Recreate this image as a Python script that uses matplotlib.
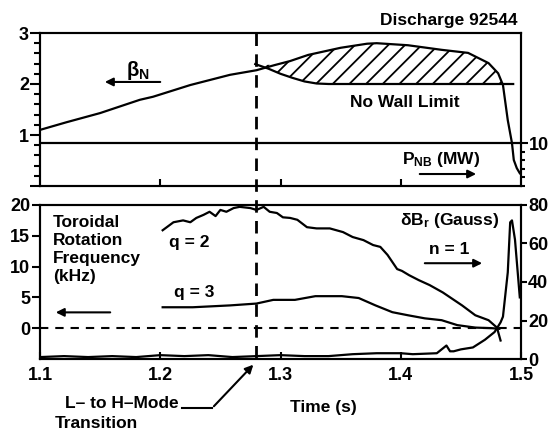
import matplotlib
matplotlib.use('Agg')
import matplotlib.pyplot as plt
import numpy as np
from matplotlib.transforms import blended_transform_factory


# ---------------------------------------------------------------------
# Data
# ---------------------------------------------------------------------

# beta_N (left axis, top panel)
t_beta = [1.100, 1.122, 1.150, 1.183, 1.194, 1.225, 1.258, 1.280, 1.295, 1.308,
          1.323, 1.350, 1.372, 1.380, 1.406, 1.434, 1.456, 1.473, 1.481, 1.485,
          1.489, 1.4925, 1.494, 1.4965, 1.499]
beta_n = [1.10, 1.25, 1.43, 1.69, 1.75, 1.98, 2.18, 2.27, 2.37, 2.45,
          2.57, 2.71, 2.79, 2.80, 2.76, 2.67, 2.61, 2.41, 2.21, 1.98,
          1.29, 0.84, 0.51, 0.35, 0.25]

# no wall beta limit
t_wall = [1.279, 1.290, 1.300, 1.310, 1.320, 1.330, 1.340, 1.4935]
no_wall = [2.39, 2.30, 2.20, 2.12, 2.05, 2.01, 2.00, 2.00]

# neutral beam power (MW)
t_pnb = [1.10, 1.50]
p_nb = [10.0, 10.0]

# toroidal rotation frequency (kHz), q = 2 surface
t_q2 = [1.202, 1.211, 1.219, 1.225, 1.230, 1.236, 1.241, 1.246, 1.250, 1.255,
        1.261, 1.266, 1.275, 1.280, 1.286, 1.291, 1.297, 1.302, 1.308, 1.314,
        1.322, 1.330, 1.341, 1.352, 1.360, 1.369, 1.377, 1.383, 1.389, 1.397,
        1.401, 1.407, 1.415, 1.424, 1.435, 1.451, 1.462, 1.473, 1.480, 1.483]
rot_q2 = [15.9, 17.2, 17.5, 17.2, 17.9, 18.4, 18.9, 18.2, 19.2, 18.9,
          19.5, 19.7, 19.5, 19.2, 19.7, 18.9, 18.7, 18.0, 17.9, 17.6,
          16.4, 16.2, 16.2, 15.6, 14.8, 14.3, 13.5, 13.2, 11.9, 9.6,
          9.3, 8.6, 7.8, 7.0, 5.8, 3.7, 2.1, 1.3, 0.1, -2.0]

# q = 3 surface
t_q3 = [1.202, 1.227, 1.258, 1.280, 1.294, 1.312, 1.329, 1.351, 1.365, 1.379,
        1.393, 1.406, 1.420, 1.434, 1.447, 1.462, 1.476, 1.482]
rot_q3 = [3.4, 3.4, 3.7, 4.0, 4.6, 4.6, 5.2, 5.2, 4.9, 3.7,
          2.6, 2.1, 1.6, 1.3, 0.5, 0.1, 0.0, -0.1]

# n = 1 radial field (Gauss), right axis
t_dbr = [1.10, 1.12, 1.14, 1.16, 1.18, 1.20, 1.22, 1.24, 1.26, 1.28,
         1.30, 1.32, 1.34, 1.36, 1.38, 1.40, 1.41, 1.43, 1.438, 1.441,
         1.444, 1.45, 1.46, 1.47, 1.478, 1.483, 1.485, 1.489, 1.491, 1.4925,
         1.495, 1.499]
dbr = [1.0, 1.5, 1.0, 1.5, 1.0, 2.0, 1.5, 2.0, 1.0, 1.5,
       2.0, 1.5, 1.5, 2.5, 3.0, 3.0, 2.5, 3.0, 7.0, 4.0,
       4.0, 5.0, 6.0, 10.0, 14.0, 19.0, 22.0, 45.0, 71.0, 72.0,
       62.0, 32.0]

t_lh = 1.28   # L- to H-mode transition

x_ticks = [1.1, 1.2, 1.3, 1.4, 1.5]


# ---------------------------------------------------------------------
# Style
# ---------------------------------------------------------------------

plt.rcParams['font.family'] = ['Liberation Sans', 'DejaVu Sans']
plt.rcParams['font.weight'] = 'bold'
plt.rcParams['axes.labelweight'] = 'bold'
plt.rcParams['mathtext.fontset'] = 'custom'
plt.rcParams['mathtext.rm'] = 'Liberation Sans'
plt.rcParams['mathtext.bf'] = 'Liberation Sans:bold'
plt.rcParams['mathtext.default'] = 'bf'
plt.rcParams['axes.linewidth'] = 1.5
plt.rcParams['hatch.linewidth'] = 1.3
plt.rcParams['lines.scale_dashes'] = False

lw = 1.6
fs = 12.5
tick_font = dict(labelsize=13)

fig = plt.figure(figsize=(5.5, 4.3), dpi=100)
ax1 = fig.add_axes([40 / 550, 1 - 186 / 430, 481 / 550, 153 / 430])
ax2 = fig.add_axes([40 / 550, 1 - 359 / 430, 481 / 550, 154 / 430])


# ---------------------------------------------------------------------
# Top panel: beta_N, no wall limit, P_NB
# ---------------------------------------------------------------------

ax1.plot(t_beta, beta_n, color='k', lw=lw)
ax1.plot(t_wall, no_wall, color='k', lw=lw)

# hatched region between beta_N and the no wall limit
tb = np.array(t_beta)
bn = np.array(beta_n)
tw = np.array(t_wall)
nw = np.array(no_wall)
up = (tb >= 1.295) & (tb <= 1.485)
lo = tw <= 1.485
poly_t = np.concatenate([tb[up], tw[lo][::-1]])
poly_b = np.concatenate([bn[up], nw[lo][::-1]])
ax1.fill(poly_t, poly_b, facecolor='none', edgecolor='k', hatch='//', lw=0)

ax1.set_xlim(1.1, 1.5)
ax1.set_ylim(0, 3)
ax1.set_yticks([0, 1, 2, 3])
ax1.set_yticklabels(['', '1', '2', '3'])
ax1.set_yticks(np.arange(0, 3.01, 0.2), minor=True)
ax1.set_xticks([1.2, 1.3, 1.4])
ax1.tick_params(axis='x', direction='in', length=5, width=1.5, labelbottom=False)
ax1.tick_params(axis='y', which='major', direction='out', length=7, width=1.5, pad=1, **tick_font)
ax1.tick_params(axis='y', which='minor', direction='out', length=4, width=1.5)

ax1p = ax1.twinx()
ax1p.plot(t_pnb, p_nb, color='k', lw=lw)
ax1p.set_ylim(0, 35.6)
ax1p.set_yticks([10])
ax1p.set_yticks([0, 2, 4, 6, 8], minor=True)
ax1p.tick_params(axis='y', which='major', direction='out', length=5, width=1.5, pad=1, **tick_font)
ax1p.tick_params(axis='y', which='minor', direction='out', length=3, width=1.5)

fig.text(517 / 550, 1 - 21 / 430, 'Discharge 92544', ha='right', va='center', fontsize=fs)

ax1.text(1.181, 2.27, r'$\mathrm{\beta}_\mathbf{N}$', ha='center', va='center', fontsize=fs + 2)
ax1.annotate('', xy=(1.1516, 2.04), xytext=(1.2023, 2.04),
             arrowprops=dict(arrowstyle='-|>', color='k', lw=1.5, mutation_scale=12))
ax1.text(1.4036, 1.64, 'No Wall Limit', ha='center', va='center', fontsize=fs)
ax1.text(1.4334, 0.51, r'$\mathbf{P_{NB}}$ (MW)', ha='center', va='center', fontsize=fs)
ax1.annotate('', xy=(1.465, 0.235), xytext=(1.4135, 0.235),
             arrowprops=dict(arrowstyle='-|>', color='k', lw=1.5, mutation_scale=12))


# ---------------------------------------------------------------------
# Bottom panel: rotation frequency and dB_r
# ---------------------------------------------------------------------

ax2.plot(t_q2, rot_q2, color='k', lw=lw)
ax2.plot(t_q3, rot_q3, color='k', lw=lw)
ax2.axhline(0, color='k', lw=1.5, linestyle=(0, (6, 5)))

ax2.set_xlim(1.1, 1.5)
ax2.set_ylim(-5, 20)
ax2.set_yticks([0, 5, 10, 15, 20])
ax2.set_xticks(x_ticks)
ax2.set_xticklabels([str(x) for x in x_ticks])
ax2.tick_params(axis='x', direction='in', length=5, width=1.5, pad=5.5, **tick_font)
ax2.tick_params(axis='y', direction='out', length=6, width=1.5, pad=1, **tick_font)
ax2.set_xlabel('Time (s)', fontsize=fs)
ax2.xaxis.set_label_coords(283 / 481, -41 / 154)

ax2r = ax2.twinx()
ax2r.plot(t_dbr, dbr, color='k', lw=lw)
ax2r.set_ylim(0, 80)
ax2r.set_yticks([0, 20, 40, 60, 80])
ax2r.tick_params(axis='y', direction='out', length=4, width=1.5, pad=1, **tick_font)

ax2.text(1.1108, 18.4, 'Toroidal\nRotation\nFrequency\n(kHz)', ha='left', va='top',
         fontsize=fs, linespacing=1.25)
ax2.annotate('', xy=(1.1108, 2.57), xytext=(1.1607, 2.57),
             arrowprops=dict(arrowstyle='-|>', color='k', lw=1.5, mutation_scale=12))
ax2.text(1.2239, 13.97, 'q = 2', ha='center', va='center', fontsize=fs)
ax2.text(1.228, 5.83, 'q = 3', ha='center', va='center', fontsize=fs)
ax2.text(1.441, 17.55, r'$\mathrm{\delta}\mathbf{B_r}$ (Gauss)', ha='center', va='center', fontsize=fs)
ax2.text(1.44, 12.7, 'n = 1', ha='center', va='center', fontsize=fs)
ax2.annotate('', xy=(1.470, 10.55), xytext=(1.4177, 10.55),
             arrowprops=dict(arrowstyle='-|>', color='k', lw=1.5, mutation_scale=12))

# L- to H-mode transition marker spanning both panels
trans = blended_transform_factory(ax2.transData, fig.transFigure)
fig.add_artist(plt.Line2D([t_lh, t_lh], [1 - 33 / 430, 1 - 359 / 430], transform=trans,
                          color='k', lw=2, linestyle=(0, (9, 6))))

ax2.text(1.168, -12.2, 'L\u2013 to H\u2013Mode', ha='center', va='center', fontsize=fs)
ax2.text(1.147, -15.4, 'Transition', ha='center', va='center', fontsize=fs)
ax2.plot([1.218, 1.243], [-13.0, -13.0], color='k', lw=1.5, clip_on=False)
ax2.annotate('', xy=(1.279, -5.6), xytext=(1.243, -13.0),
             arrowprops=dict(arrowstyle='-|>', color='k', lw=1.5, mutation_scale=12),
             annotation_clip=False)

fig.savefig('out.png', dpi=100)
